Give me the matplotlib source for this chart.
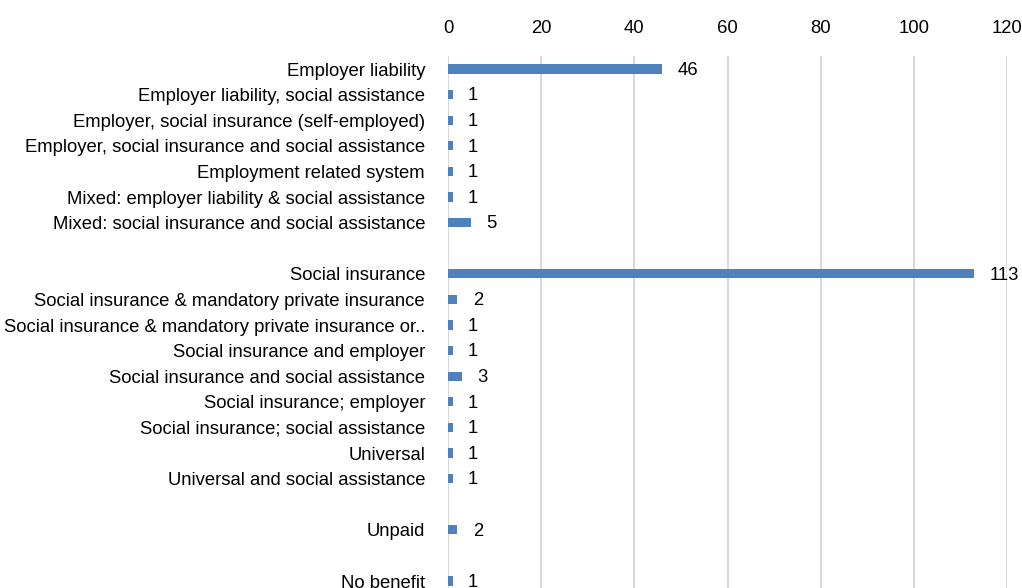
import matplotlib
matplotlib.use("Agg")
import matplotlib.pyplot as plt

# categories top to bottom, "" = blank row
categories = [
    "Employer liability",
    "Employer liability, social assistance",
    "Employer, social insurance (self-employed)",
    "Employer, social insurance and social assistance",
    "Employment related system",
    "Mixed: employer liability & social assistance",
    "Mixed: social insurance and social assistance",
    "",
    "Social insurance",
    "Social insurance & mandatory private insurance",
    "Social insurance & mandatory private insurance or..",
    "Social insurance and employer",
    "Social insurance and social assistance",
    "Social insurance; employer",
    "Social insurance; social assistance",
    "Universal",
    "Universal and social assistance",
    "",
    "Unpaid",
    "",
    "No benefit",
]
values = [46, 1, 1, 1, 1, 1, 5, None, 113, 2, 1, 1, 3, 1, 1, 1, 1, None, 2, None, 1]
x_ticks = [0, 20, 40, 60, 80, 100, 120]

plt.rcParams['font.family'] = ['Liberation Sans', 'DejaVu Sans']
fs = 13.3

W, H = 1022, 588
fig = plt.figure(figsize=(W / 100, H / 100), dpi=100)
# axes from x=448 to 1007 px, top at 56 px, running to the bottom edge
ax = fig.add_axes([448 / W, 0, (1007 - 448) / W, (H - 56.2) / H])

pos = [i for i, v in enumerate(values) if v is not None]
vals = [v for v in values if v is not None]
ax.barh(pos, vals, height=0.36, color="#4F81BD", zorder=3)
for p, v in zip(pos, vals):
    ax.text(v + 3.3, p + 0.05, str(v), va="center", ha="left", fontsize=fs)

ax.set_xlim(0, 120)
row_px = 25.6
ax.set_ylim(-0.5 + (H - 56.2) / row_px, -0.5)
ax.set_xticks(x_ticks)
ax.xaxis.tick_top()
ax.tick_params(axis="x", length=0, pad=13.5, labelsize=fs)
ax.set_yticks(range(len(categories)))
ax.set_yticklabels(categories, fontsize=fs)
ax.tick_params(axis="y", length=0, pad=16.5)
ax.grid(axis="x", color="#D9D9D9", linewidth=1.5, zorder=0)
for s in ax.spines.values():
    s.set_visible(False)

fig.savefig("out.png", dpi=100)
